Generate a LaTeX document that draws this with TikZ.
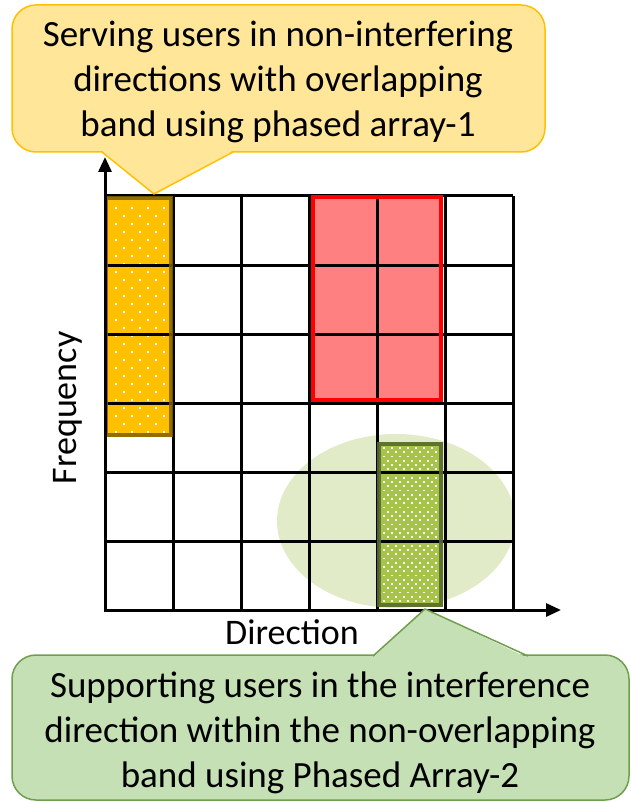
\documentclass[tikz,border=0pt]{standalone}
\usepackage{fontspec}
\setmainfont{Carlito}
\usetikzlibrary{arrows.meta}
\definecolor{topfill}{HTML}{FFE699}
\definecolor{topline}{HTML}{FFC000}
\definecolor{botfill}{HTML}{C5E0B4}
\definecolor{botline}{HTML}{6F9E4C}
\definecolor{ellfill}{HTML}{E2EBC8}
\definecolor{yelfill}{HTML}{FFC000}
\definecolor{yelline}{HTML}{7F6000}
\definecolor{redfill}{HTML}{FF8080}
\definecolor{grnfill}{HTML}{A6C34A}
\definecolor{grnline}{HTML}{586B2D}
\tikzset{
  gridline/.style={line width=3pt, black},
  axisline/.style={line width=3pt, black, -{Triangle[length=15pt,width=13pt]}},
  bigtext/.style={font=\fontsize{37}{45}\selectfont, align=center, inner sep=0pt},
  labeltext/.style={font=\fontsize{36}{43}\selectfont, inner sep=0pt},
  dotstyle/.style={fill=white},
}
\begin{document}
\begin{tikzpicture}[x=1pt,y=-1pt]
\useasboundingbox (0,0) rectangle (630,802);

% background ellipse
\fill[ellfill] (396,521) ellipse [x radius=119, y radius=87];

% yellow column
\fill[yelfill] (105,196) rectangle (172,437);
\begin{scope}
  \clip (108,200) rectangle (169,433);
  \foreach \r in {0,...,28} {
    \pgfmathtruncatemacro\odd{mod(\r,2)}
    \foreach \c in {0,...,3} {
      \fill[dotstyle] ({116+16*\c+8*\odd-1},{208+8*\r-1}) rectangle ++(2,2);
    }
  }
\end{scope}

% red block
\fill[redfill] (311,196) rectangle (442,401);

% green column
\fill[grnfill] (377,442) rectangle (443,607);
\begin{scope}
  \clip (381,446) rectangle (439,603);
  \foreach \r in {0,...,37} {
    \pgfmathtruncatemacro\odd{mod(\r,2)}
    \foreach \c in {0,...,7} {
      \fill[dotstyle] ({384+8*\c+4*\odd-0.9},{448+4.25*\r-0.9}) rectangle ++(1.8,1.8);
    }
  }
\end{scope}

% grid
\foreach \i in {1,...,6} {
  \draw[gridline] ({105+68*\i},196) -- ({105+68*\i},610);
}
\foreach \j in {0,...,5} {
  \draw[gridline] (105,{196+69*\j}) -- (513,{196+69*\j});
}

% borders
\draw[line width=4pt, yelline, opacity=0.85] (106,198) rectangle (171,435);
\draw[line width=4pt, red] (313,197) rectangle (441,400);
\draw[line width=4pt, grnline, opacity=0.9] (379,444) rectangle (441,605);

% axes
\coordinate (origin) at (105,610);
\coordinate (ytip) at (105,157);
\coordinate (xtip) at (561,610);
\draw[axisline] (105,611.5) -- (ytip);
\draw[axisline] (103.5,610) -- (xtip);

% axis labels
\node[labeltext, rotate=90] (freq) at (68,408) {Frequency};
\node[labeltext] (dir) at (292,632) {Direction};

% top callout
\node[draw=topline, fill=topfill, line width=1.5pt, rounded corners=24pt,
      minimum width=533pt, minimum height=147pt, inner sep=0pt] (topbox) at (278.5,78.5) {};
\fill[topfill] (100,149) -- (236,149) -- (154,194) -- cycle;
\coordinate (toptip) at (154,194);
\draw[topline, line width=1.5pt, line join=round] (102,152) -- (toptip) -- (233,152);
\node[bigtext] (toptext) at (278,82) {Serving users in non-interfering\\directions with overlapping\\band using phased array-1};

% bottom callout
\node[draw=botline, fill=botfill, line width=1.5pt, rounded corners=24pt,
      minimum width=617pt, minimum height=145pt, inner sep=0pt] (botbox) at (320.5,727.5) {};
\fill[botfill] (371,659) -- (530,659) -- (425,609) -- cycle;
\coordinate (bottip) at (425,609);
\draw[botline, line width=1.5pt, line join=round] (373,656) -- (bottip) -- (528,656);
\node[bigtext] (bottext) at (320,733) {Supporting users in the interference\\direction within the non-overlapping\\band using Phased Array-2};

\end{tikzpicture}
\end{document}
